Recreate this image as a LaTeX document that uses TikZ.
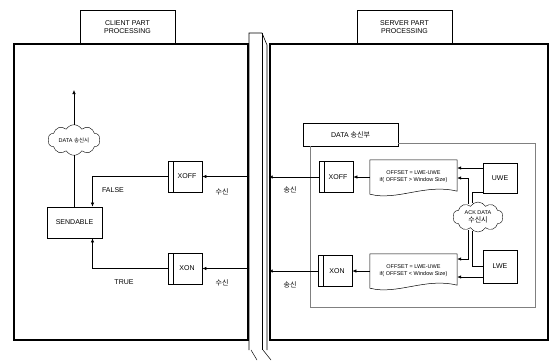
\documentclass[tikz,border=0pt]{standalone}
\usepackage{fontspec}
\setmainfont{Liberation Sans}
\newfontfamily\kr{Noto Sans CJK KR}
\usetikzlibrary{calc,arrows.meta,positioning,shapes.symbols}

\tikzset{
 frame/.style={draw, line width=2.6pt, inner sep=0pt},
 lbl/.style={draw, line width=0.5pt, minimum width=95pt, minimum height=34pt, align=center, inner sep=1pt},
 box/.style={draw, line width=0.7pt, minimum width=34pt, minimum height=31pt, inner sep=1pt},
 proc/.style={box, path picture={\draw[line width=0.5pt]
   ($(path picture bounding box.north west)+(5,0)$) -- ($(path picture bounding box.south west)+(5,0)$);}},
 puff/.style={draw, cloud, cloud puffs=10, cloud puff arc=120, aspect=1.8, inner sep=0pt, align=center},
 doctext/.style={minimum width=87pt, minimum height=34pt, inner sep=1pt, align=center, font=\fontsize{5.5}{7}\selectfont},
 docline/.style={draw, line width=0.5pt},
 region/.style={draw=gray, line width=0.5pt},
 arr/.style={-{Latex[length=4pt,width=3.5pt]}, line width=0.6pt}
}

\begin{document}
\begin{tikzpicture}[x=1pt,y=-1pt,font=\fontsize{7}{8.5}\selectfont]

    \useasboundingbox (0,0) rectangle (551,360);

    % labels first, frames over them
    \node[lbl] (clientlbl) at (127.5,27) {CLIENT PART\\PROCESSING};
    \node[lbl] (serverlbl) at (404.5,27) {SERVER PART\\PROCESSING};
    \node[frame, minimum width=234pt, minimum height=296pt] (client) at (131,192) {};
    \node[frame, minimum width=278pt, minimum height=296pt] (server) at (409,192) {};

    % pipe between the two parts
    \draw[line width=0.6pt, fill=white] (249,350) -- (249,33) -- (262,33) -- (267,45) -- (267,350);
    \draw[line width=0.5pt] (262,33) -- (262,350);
    \draw[line width=0.5pt] (251,350) -- (257,360);
    \draw[line width=0.5pt] (263,350) -- (271,360);

    % client part
    \node[puff, minimum width=52pt, minimum height=27pt] (sendcloud) at (74,140)
        {\fontsize{5.5}{6}\selectfont DATA {\kr 송신시}};
    \coordinate (out) at (74,90);
    \node[box, minimum width=55pt] (sendable) at (74.5,222.5) {SENDABLE};
    \node[proc] (xoffc) at (185,176.5) {\hspace{4pt}XOFF};
    \node[proc] (xonc) at (185,268.5) {\hspace{4pt}XON};

    \draw[arr] (sendcloud.north) -- (out);
    \draw[line width=0.5pt] (sendcloud.south) -- (sendable.north -| sendcloud.south);
    \draw[arr] (xoffc.west) -| ($(sendable.north)+(18,0)$);
    \draw[arr] (xonc.west) -| ($(sendable.south)+(18,0)$);
    \draw[arr] (client.east |- xoffc.west) -- (xoffc.east);
    \draw[arr] (client.east |- xonc.west) -- (xonc.east);

    \node (false) at (113,190) {FALSE};
    \node (true) at (124,282) {TRUE};
    \node (rx1) at (222,192) {\kr 수신};
    \node (rx2) at (222,283) {\kr 수신};

    % server part
    \node[box, minimum width=95pt, minimum height=23pt] (datab) at (350.5,134.5) {DATA {\kr 송신부}};
    \draw[region] ($(datab.south west)+(8,0)$) |- (535,307) |- ($(datab.east)+(0,8.5)$);

    \node[proc] (xoffs) at (336,177) {\hspace{4pt}XOFF};
    \node[proc] (xons) at (335,271) {\hspace{4pt}XON};
    \node[doctext] (doc1) at (413.5,177) {OFFSET = LWE-UWE\\if( OFFSET \textgreater{} Window Size)};
    \node[doctext] (doc2) at (413.5,271) {OFFSET = LWE-UWE\\if( OFFSET \textless{} Window Size)};
    \foreach \d in {doc1,doc2}
      \draw[docline] (\d.north west) -- (\d.north east) -- ($(\d.south east)+(0,-3)$)
        .. controls ($(\d.south)+(12,-11)$) and ($(\d.south)+(-16,7)$) .. (\d.south west) -- cycle;
    \node[box, minimum height=30pt] (uwe) at (500,178) {UWE};
    \node[box, minimum height=33pt] (lwe) at (500,266.5) {LWE};
    \node[puff, minimum width=50pt, minimum height=30pt] (ack) at (478,217)
        {\fontsize{5.5}{6.5}\selectfont ACK DATA\\{\kr 수신시}};

    \draw[arr] (xoffs.west) -- (server.west |- xoffs.west);
    \draw[arr] (xons.west) -- (server.west |- xons.west);
    \node (tx1) at (290,190) {\kr 송신};
    \node (tx2) at (290,285) {\kr 송신};
    \draw[arr] (doc1.west) -- (xoffs.east);
    \draw[arr] (doc2.west) -- (xons.east);

    \draw[arr] ($(uwe.west)+(0,-10)$) -- ($(doc1.east)+(0,-9)$);
    \draw[arr] ($(ack.north)+(-10,2)$) |- ($(doc1.east)+(0,1)$);
    \draw[line width=0.5pt] ($(ack.north)+(-6,1)$) |- ($(uwe.south west)+(0,-1)$);
    \draw[arr] ($(ack.south)+(-10,-2)$) |- ($(doc2.east)+(0,-12)$);
    \draw[line width=0.5pt] ($(ack.south)+(-6,-1)$) |- (lwe.west);
    \draw[arr] ($(lwe.west)+(0,10.5)$) -- ($(doc2.east)+(0,6)$);

\end{tikzpicture}
\end{document}
